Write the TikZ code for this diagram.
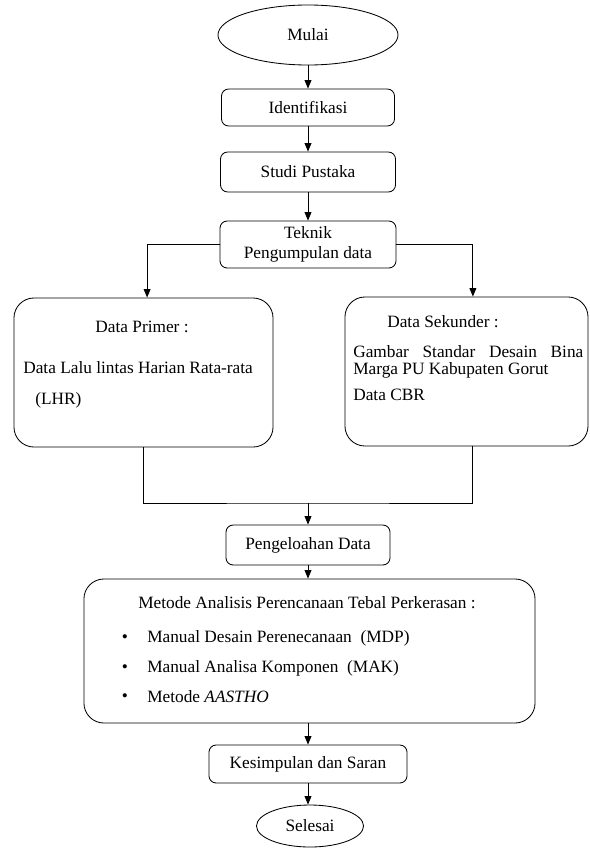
\documentclass[tikz,border=0pt]{standalone}
\usepackage{fontspec}
\setmainfont{Liberation Serif}
\usetikzlibrary{shapes.geometric,arrows.meta}
\tikzset{
  kotak/.style={draw, rounded corners=0.18cm, inner sep=0pt, line width=0.6pt},
  kotakbesar/.style={draw, rounded corners=0.5cm, inner sep=0pt, line width=0.6pt},
  oval/.style={draw, ellipse, inner sep=0pt, line width=0.6pt},
  teks/.style={anchor=west, inner sep=0pt},
  titik/.style={anchor=base, inner sep=0pt},
  panah/.style={-{Triangle[length=2.1mm,width=1.7mm]}, line width=0.6pt},
  garis/.style={line width=0.6pt}
}
\begin{document}
\begin{tikzpicture}[x=0.025cm, y=0.025cm, font=\fontsize{12.3}{14.2}\selectfont]
\useasboundingbox (0,0) rectangle (590,-848);
% alur utama
\node [oval, minimum width=4.5cm, minimum height=1.5cm] (mulai) at (308,-35) {Mulai};
\node [kotak, minimum width=4.325cm, minimum height=0.925cm] (identifikasi) at (308,-107.5) {Identifikasi};
\node [kotak, minimum width=4.375cm, minimum height=1cm] (studi) at (308,-172) {Studi Pustaka};
\node [kotak, minimum width=4.4cm, minimum height=1.175cm, align=center] (teknik) at (308,-244.5) {Teknik\\Pengumpulan data};
% data primer dan sekunder
\node [kotakbesar, minimum width=6.475cm, minimum height=3.725cm] (primer) at (143.5,-372.5) {};
\node [kotakbesar, minimum width=6.075cm, minimum height=3.725cm] (sekunder) at (466.5,-371.5) {};
\node [inner sep=0pt] (primerjudul) at (142,-327) {Data Primer :};
\node [teks] (primer1) at (23,-368) {Data Lalu lintas Harian Rata-rata};
\node [teks] (primer2) at (35,-400) {(LHR)};
\node [teks] (sekunderjudul) at (387,-322) {Data Sekunder :};
\node [teks] (sekunder1) at (353,-352) {\hbox to 5.75cm{Gambar\hfill Standar\hfill Desain\hfill Bina}};
\node [teks] (sekunder2) at (353,-370) {Marga PU Kabupaten Gorut};
\node [teks] (sekunder3) at (353,-395) {Data CBR};
\coordinate (gabung) at (308,-503);
% pengolahan dan metode
\node [kotak, minimum width=4.1cm, minimum height=1cm] (pengeloahan) at (308,-545) {Pengeloahan Data};
\node [kotakbesar, minimum width=11.275cm, minimum height=3.6cm] (metode) at (309.5,-651) {};
\node [teks] (metodejudul) at (138,-603) {Metode Analisis Perencanaan Tebal Perkerasan :};
\node [titik] (b1) at (125,-642) {\textbullet};
\node [titik] (b2) at (125,-672) {\textbullet};
\node [titik] (b3) at (125,-701) {\textbullet};
\node [teks] (metode1) at (147,-638) {Manual Desain Perenecanaan\ \ (MDP)};
\node [teks] (metode2) at (147,-668) {Manual Analisa Komponen\ \ (MAK)};
\node [teks] (metode3) at (147,-697) {Metode \textit{AASTHO}};
\node [kotak, minimum width=4.95cm, minimum height=0.95cm] (kesimpulan) at (308,-764) {Kesimpulan dan Saran};
\node [oval, minimum width=2.675cm, minimum height=1.05cm] (selesai) at (310,-826) {Selesai};
% panah
\draw [panah] (mulai) -- (identifikasi);
\draw [panah] (identifikasi) -- (studi);
\draw [panah] (studi) -- (teknik);
\draw [panah] (teknik.west) -| ([xshift=0.09cm]primer.north);
\draw [panah] (teknik.east) -| ([xshift=0.16cm]sekunder.north);
\draw [garis] (primer.south) |- (gabung) -| ([xshift=0.16cm]sekunder.south);
\draw [panah] (gabung) -- (pengeloahan);
\draw [panah] (pengeloahan) -- (pengeloahan |- metode.north);
\draw [panah] (kesimpulan |- metode.south) -- (kesimpulan);
\draw [panah] (kesimpulan) -- (kesimpulan |- selesai.north);
\end{tikzpicture}
\end{document}
